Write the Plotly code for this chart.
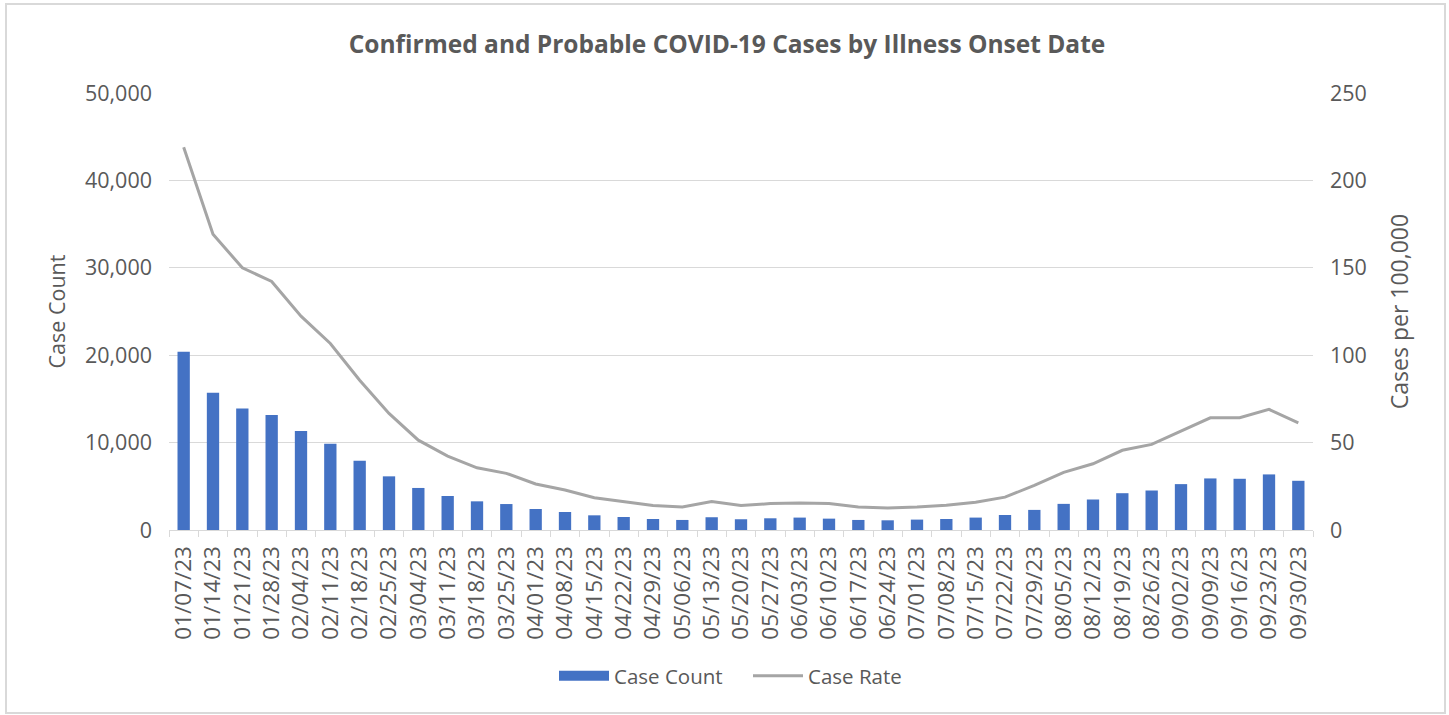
import plotly.graph_objects as go

dates = ["01/07/23","01/14/23","01/21/23","01/28/23","02/04/23","02/11/23","02/18/23","02/25/23",
         "03/04/23","03/11/23","03/18/23","03/25/23","04/01/23","04/08/23","04/15/23","04/22/23",
         "04/29/23","05/06/23","05/13/23","05/20/23","05/27/23","06/03/23","06/10/23","06/17/23",
         "06/24/23","07/01/23","07/08/23","07/15/23","07/22/23","07/29/23","08/05/23","08/12/23",
         "08/19/23","08/26/23","09/02/23","09/09/23","09/16/23","09/23/23","09/30/23"]

case_count = [20400, 15700, 13900, 13150, 11330, 9880, 7930, 6140,
              4810, 3890, 3280, 2970, 2400, 2060, 1680, 1490,
              1260, 1150, 1460, 1230, 1340, 1420, 1300, 1150,
              1110, 1190, 1260, 1420, 1720, 2300, 2990, 3490,
              4210, 4520, 5250, 5900, 5860, 6360, 5630]

case_rate = [219, 169.2, 150, 142.2, 122.3, 106.7, 85.7, 66.7,
             51.4, 42.3, 35.6, 32.4, 26.3, 22.9, 18.5, 16.2,
             14.0, 13.2, 16.3, 14.0, 15.1, 15.5, 15.1, 13.2,
             12.6, 13.2, 14.2, 15.9, 18.8, 25.5, 33.0, 37.9,
             45.6, 49.0, 56.5, 64.2, 64.2, 69.0, 61.3]

FONT = "Open Sans"
GREY = "#595959"
BLUE = "#4472C4"
LINE = "#A5A5A5"

W, H = 1449, 715
L, R, T, B = 169, 1313, 93, 530  # plot area edges in px
PW, PH = R - L, B - T

fig = go.Figure()
fig.add_trace(go.Bar(x=dates, y=case_count, name="Case Count", showlegend=False,
                     marker=dict(color=BLUE, line=dict(width=0)), yaxis="y"))
# legend-only entry drawn as a wide rectangle like the reference
fig.add_trace(go.Scatter(x=[dates[0]], y=[None], name="Case Count", mode="lines",
                         line=dict(color=BLUE, width=14), yaxis="y", hoverinfo="skip"))
fig.add_trace(go.Scatter(x=dates, y=case_rate, name="Case Rate", mode="lines",
                         line=dict(color=LINE, width=3), yaxis="y2"))

fig.update_layout(
    width=W, height=H,
    margin=dict(l=L, r=W - R, t=T, b=H - B, autoexpand=False),
    paper_bgcolor="white", plot_bgcolor="white",
    font=dict(family=FONT, color=GREY, size=21),
    title=dict(text="<b>Confirmed and Probable COVID-19 Cases by Illness Onset Date</b>",
               x=727 / W, xref="container", xanchor="center", y=1 - 44 / H, yref="container",
               yanchor="middle", font=dict(family=FONT, size=24.5, color=GREY)),
    bargap=0.58,
    showlegend=True,
    legend=dict(orientation="h", x=(748 - L) / PW, xanchor="center", y=-(676 - B) / PH,
                yanchor="middle", font=dict(size=20.5, color=GREY), traceorder="normal",
                itemwidth=50, entrywidth=129, entrywidthmode="pixels"),
    xaxis=dict(type="category", tickangle=-90, showgrid=False,
               showline=True, linecolor="#D9D9D9", linewidth=1,
               ticks="outside", tickson="boundaries", ticklen=6, tickcolor="#D9D9D9",
               tickfont=dict(size=22.5, color=GREY), ticklabelstandoff=6),
    yaxis=dict(range=[0, 50000], dtick=10000, tickformat=",", showgrid=True,
               gridcolor="#D9D9D9", gridwidth=1, zeroline=False,
               title=dict(text="Case Count", font=dict(size=21.5, color=GREY), standoff=13),
               tickfont=dict(size=21.5, color=GREY), ticklabelstandoff=16),
    yaxis2=dict(range=[0, 250], dtick=50, overlaying="y", side="right", showgrid=False,
                zeroline=False,
                title=dict(text="Cases per 100,000", font=dict(size=23, color=GREY), standoff=26),
                tickfont=dict(size=21.5, color=GREY), ticklabelstandoff=16),
)

# outer chart border
fig.add_shape(type="rect", xref="paper", yref="paper",
              x0=(6 - L) / PW, x1=(1445 - L) / PW, y0=-(713 - B) / PH, y1=(B - 4) / PH,
              line=dict(color="#D9D9D9", width=2), fillcolor="rgba(0,0,0,0)", layer="below")

fig.write_html("out.html", config={"displayModeBar": False},
               post_script="document.body.style.margin='0';")
